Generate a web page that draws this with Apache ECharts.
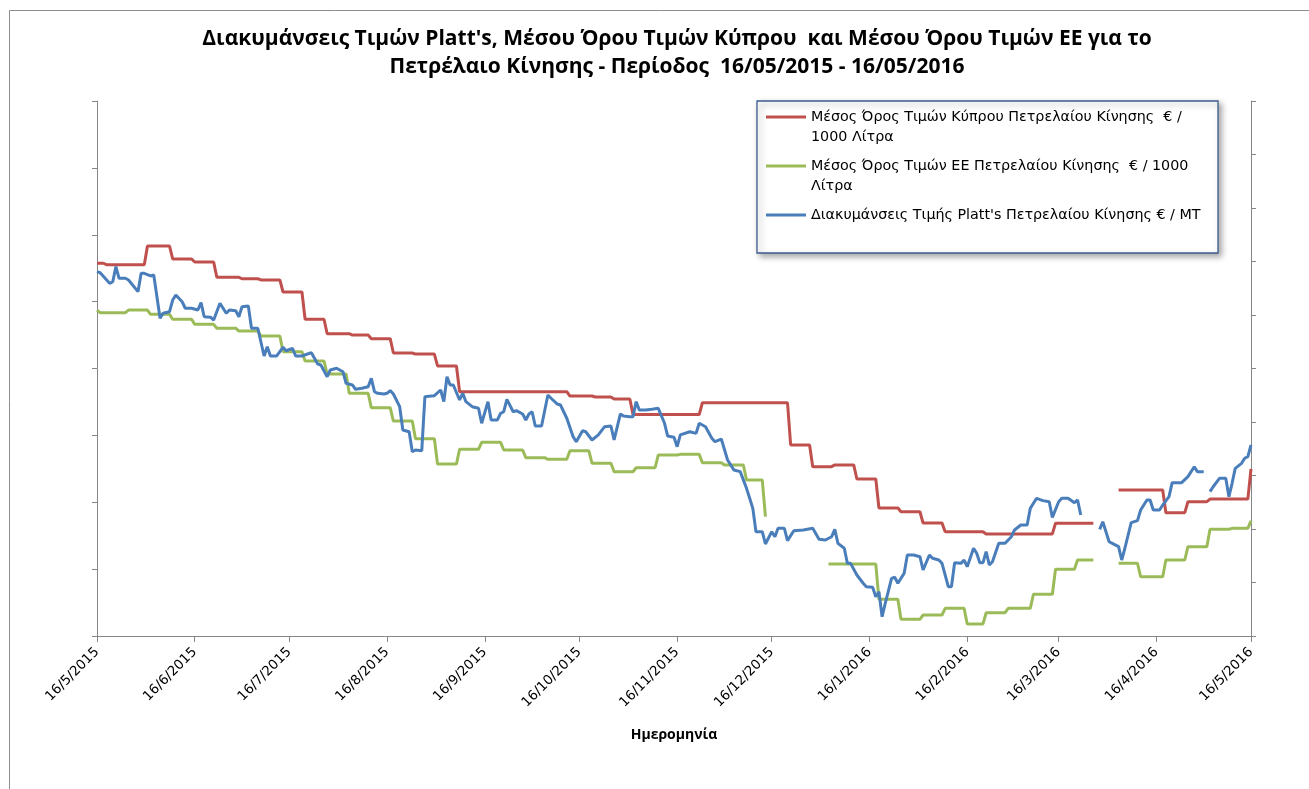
<!DOCTYPE html>
<html>
<head>
<meta charset="utf-8">
<script src="https://cdn.jsdelivr.net/npm/echarts@6/dist/echarts.min.js"></script>
<style>
html,body{margin:0;padding:0;background:#fff;}
#chart{width:1309px;height:789px;}
</style>
</head>
<body>
<div id="chart"></div>
<script>
// Days counted from 16/5/2015 (day 0) to 16/5/2016 (day 366)
const tickDays = [0, 31, 61, 92, 123, 153, 184, 214, 245, 276, 305, 336, 366];
const tickLabels = ['16/5/2015','16/6/2015','16/7/2015','16/8/2015','16/9/2015','16/10/2015','16/11/2015','16/12/2015','16/1/2016','16/2/2016','16/3/2016','16/4/2016','16/5/2016'];

const seriesNames = [
  'Μέσος Όρος Τιμών Κύπρου Πετρελαίου Κίνησης € / 1000 Λίτρα',
  'Μέσος Όρος Τιμών ΕΕ Πετρελαίου Κίνησης  € / 1000 Λίτρα',
  "Διακυμάνσεις Τιμής Platt's Πετρελαίου Κίνησης € / ΜΤ"
];
const legendLabels = [
  'Μέσος Όρος Τιμών Κύπρου Πετρελαίου Κίνησης  € /\n1000 Λίτρα',
  'Μέσος Όρος Τιμών ΕΕ Πετρελαίου Κίνησης  € / 1000\nΛίτρα',
  "Διακυμάνσεις Τιμής Platt's Πετρελαίου Κίνησης € / ΜΤ\n "
];

// Cyprus average (€ / 1000 L), left axis
const cyprusDays = [0,2,3,15,16,23,24,30,31,37,38,45,46,51,52,58,59,65,66,72,73,80,81,86,87,93,94,100,101,107,108,114,115,149,150,157,158,163,164,169,170,191,192,219,220,226,227,233,234,240,241,247,248,254,255,261,262,268,269,281,282,303,304,316,317,324,338,339,345,346,352,353,365,366];
const cyprusPrices = [1278.7,1278.7,1277.6,1277.6,1291.6,1291.6,1281.9,1281.9,1279.6,1279.6,1268.2,1268.2,1267.1,1267.1,1266.2,1266.2,1257.2,1257.2,1236.8,1236.8,1226.0,1226.0,1225.0,1225.0,1222.3,1222.3,1211.6,1211.6,1210.8,1210.8,1201.9,1201.9,1182.7,1182.7,1179.4,1179.4,1178.7,1178.7,1177.2,1177.2,1165.6,1165.6,1174.4,1174.4,1142.8,1142.8,1126.6,1126.6,1127.9,1127.9,1117.4,1117.4,1095.7,1095.7,1092.9,1092.9,1084.5,1084.5,1078.0,1078.0,1076.3,1076.3,1084.3,1084.3,null,1109.2,1109.2,1092.2,1092.2,1100.4,1100.4,1102.4,1102.4,1124.9];

// EU average (€ / 1000 L), left axis
const euDays = [0,1,9,10,16,17,23,24,30,31,37,38,44,45,51,52,58,59,65,66,72,73,79,80,86,87,93,94,100,101,107,108,114,115,121,122,128,129,135,136,142,143,149,150,156,157,163,164,170,171,177,178,184,185,191,192,198,199,205,206,211,212,213,232,247,248,254,255,261,262,268,269,275,276,281,282,288,289,296,297,303,304,310,311,316,317,324,330,331,338,339,345,346,352,353,359,360,365,366];
const euPrices = [1243.7,1241.7,1241.7,1243.7,1243.7,1240.5,1240.5,1236.8,1236.8,1233.0,1233.0,1230.1,1230.1,1228.0,1228.0,1224.3,1224.3,1212.6,1212.6,1205.6,1205.6,1195.9,1195.9,1181.5,1181.5,1170.7,1170.7,1160.7,1160.7,1147.5,1147.5,1128.6,1128.6,1139.6,1139.6,1144.8,1144.8,1139.1,1139.1,1133.3,1133.3,1132.1,1132.1,1138.5,1138.5,1129.1,1129.1,1122.8,1122.8,1125.8,1125.8,1135.3,1135.3,1135.8,1135.8,1129.6,1129.6,1127.9,1127.9,1116.6,1116.6,1089.2,null,1053.8,1053.8,1027.4,1027.4,1012.5,1012.5,1015.7,1015.7,1020.7,1020.7,1009.0,1009.0,1017.4,1017.4,1020.7,1020.7,1031.2,1031.2,1049.9,1049.9,1056.8,1056.8,null,1054.4,1054.4,1044.3,1044.3,1056.8,1056.8,1066.8,1066.8,1079.8,1079.8,1080.5,1080.5,1086.2];

// Platt's (€ / MT), right axis
const plattsDays = [0,1,4,5,6,7,9,10,13,14,15,17,18,20,21,23,24,25,27,28,30,32,33,34,36,37,39,41,42,44,45,46,48,49,51,53,54,55,57,59,60,62,63,65,68,70,71,73,74,76,78,79,81,82,84,86,87,88,89,91,92,93,94,96,97,99,100,101,103,104,106,107,109,110,111,112,113,115,116,117,119,121,122,124,125,127,128,129,130,132,133,135,136,137,138,139,141,143,144,146,147,149,151,152,154,155,157,159,161,163,164,166,167,169,170,171,172,174,176,178,180,181,183,184,185,188,190,191,193,195,196,198,200,202,204,206,207,208,209,211,212,214,215,216,218,219,221,224,227,229,231,233,234,235,237,238,239,241,243,244,246,247,248,249,250,252,253,254,256,257,259,261,262,264,265,267,268,270,271,272,274,275,276,278,279,280,281,282,283,284,286,288,290,291,293,295,296,298,300,302,303,305,306,308,310,311,312,313,318,319,321,322,324,325,326,328,330,331,333,334,335,337,338,340,341,344,346,348,349,351,352,353,354,356,358,359,360,361,363,364,365,366];
const plattsPrices = [540.5,539.5,529.6,531.1,545.2,534.3,534.3,532.7,521.8,539.0,539.0,536.5,537.4,496.9,501.6,503.1,514.0,518.7,512.4,506.3,506.3,504.7,511.5,498.4,497.9,495.3,510.9,501.6,504.7,504.0,498.4,507.8,508.4,487.6,487.6,461.7,470.4,461.7,461.7,469.8,466.6,468.9,461.7,461.7,464.8,454.2,453.3,442.3,448.6,450.2,447.0,436.2,434.6,430.6,431.5,433.0,440.8,428.3,426.8,426.2,426.8,429.3,426.2,414.3,392.5,390.9,372.2,373.8,373.2,423.7,424.3,424.6,429.9,419.0,442.3,434.6,434.6,420.6,426.8,419.0,414.3,412.8,398.8,419.0,401.9,401.9,408.1,409.6,421.2,409.6,410.6,407.5,401.9,407.5,409.6,396.3,396.3,425.2,422.2,416.8,415.9,403.5,386.3,381.6,391.9,390.9,383.2,387.9,395.6,396.3,383.2,407.5,405.6,405.0,405.0,419.0,411.2,411.2,411.9,412.8,398.8,386.9,385.7,376.9,387.9,390.9,389.4,398.8,395.6,384.8,381.6,384.1,364.5,355.1,353.6,338.0,328.7,319.3,297.5,297.5,286.0,297.5,292.8,300.7,300.7,289.1,298.4,299.1,300.7,290.4,289.7,292.8,299.7,286.6,282.0,267.9,267.9,257.0,249.3,246.1,245.5,236.7,241.4,218.0,230.6,253.9,254.9,249.3,258.6,275.7,275.7,274.1,261.7,275.7,272.6,271.0,267.9,246.1,246.1,268.5,267.9,271.0,264.8,282.0,277.3,268.5,268.5,278.8,266.4,269.4,286.6,286.6,292.8,299.1,303.7,303.7,319.3,328.7,326.5,325.5,310.9,325.5,328.7,328.7,324.6,327.1,313.1,null,299.7,306.8,288.1,286.6,283.5,271.0,282.0,305.9,307.8,317.8,327.1,327.1,317.8,317.8,322.4,330.2,343.3,343.3,348.9,358.2,353.6,353.6,null,334.9,339.5,347.4,347.4,330.2,342.7,356.7,361.4,366.1,367.6,378.5];

function pairs(days, vals) {
  return days.map((d, i) => [d, vals[i] === null ? '-' : vals[i]]);
}

const axisGray = '#868686';
const chart = echarts.init(document.getElementById('chart'), null, {renderer: 'canvas'});
const legendIcon = 'path://M0,8.5H40V11.5H0Z M0,0H0.01V0.01H0Z M0,39.99H0.01V40H0Z';

chart.setOption({
  backgroundColor: '#fff',
  animation: false,
  title: {
    text: "Διακυμάνσεις Τιμών Platt's, Μέσου Όρου Τιμών Κύπρου  και Μέσου Όρου Τιμών ΕΕ για το\nΠετρέλαιο Κίνησης - Περίοδος  16/05/2015 - 16/05/2016",
    left: 672,
    top: 20,
    textAlign: 'center',
    textStyle: {
      fontFamily: 'Open Sans',
      fontWeight: 'bold',
      fontSize: 21,
      lineHeight: 28,
      color: '#000'
    }
  },
  graphic: [{
    type: 'rect',
    shape: {x: 9.5, y: 10.5, width: 1320, height: 800},
    style: {fill: null, stroke: '#8c8c8c', lineWidth: 1},
    silent: true,
    z: -1
  }],
  legend: {
    orient: 'vertical',
    left: 757,
    top: 101,
    padding: [6, 15, 8, 9],
    itemGap: 9,
    itemWidth: 40,
    itemHeight: 40,
    itemTextGap: 2,
    icon: legendIcon,
    symbolKeepAspect: false,
    backgroundColor: '#fff',
    borderColor: '#3b5b8c',
    borderWidth: 1.3,
    shadowBlur: 6,
    shadowOffsetX: 3,
    shadowOffsetY: 3,
    shadowColor: 'rgba(0,0,0,0.35)',
    data: seriesNames,
    formatter: name => legendLabels[seriesNames.indexOf(name)],
    textStyle: {
      fontFamily: 'DejaVu Sans',
      fontSize: 14.3,
      lineHeight: 20,
      color: '#000',
      width: 392
    }
  },
  grid: {left: 97, right: 58, top: 101, bottom: 153, containLabel: false},
  xAxis: {
    type: 'value',
    min: 0,
    max: 366,
    name: 'Ημερομηνία',
    nameLocation: 'middle',
    nameGap: 92,
    nameTextStyle: {fontFamily: 'Open Sans', fontWeight: 'bold', fontSize: 14, color: '#000'},
    axisLine: {lineStyle: {color: axisGray, width: 1}},
    axisTick: {show: true, length: 6, customValues: tickDays, lineStyle: {color: axisGray}},
    axisLabel: {
      customValues: tickDays,
      rotate: 45,
      margin: 14,
      fontFamily: 'DejaVu Sans',
      fontSize: 13.5,
      color: '#000',
      formatter: v => tickLabels[tickDays.indexOf(v)] || ''
    },
    splitLine: {show: false}
  },
  yAxis: [{
    type: 'value',
    min: 1000,
    max: 1400,
    interval: 50,
    position: 'left',
    axisLine: {show: true, lineStyle: {color: axisGray, width: 1}},
    axisTick: {show: true, length: 5, lineStyle: {color: axisGray}},
    axisLabel: {show: false},
    splitLine: {show: false}
  }, {
    type: 'value',
    min: 200,
    max: 700,
    interval: 50,
    position: 'right',
    axisLine: {show: true, lineStyle: {color: axisGray, width: 1}},
    axisTick: {show: true, length: 5, lineStyle: {color: axisGray}},
    axisLabel: {show: false},
    splitLine: {show: false}
  }],
  series: [{
    name: seriesNames[0],
    type: 'line',
    yAxisIndex: 0,
    showSymbol: false,
    symbol: 'none',
    color: '#c0504d',
    lineStyle: {width: 3, color: '#c0504d'},
    data: pairs(cyprusDays, cyprusPrices),
    z: 3
  }, {
    name: seriesNames[1],
    type: 'line',
    yAxisIndex: 0,
    showSymbol: false,
    symbol: 'none',
    color: '#9bbb59',
    lineStyle: {width: 3, color: '#9bbb59'},
    data: pairs(euDays, euPrices),
    z: 2
  }, {
    name: seriesNames[2],
    type: 'line',
    yAxisIndex: 1,
    showSymbol: false,
    symbol: 'none',
    color: '#4a7ebb',
    lineStyle: {width: 3, color: '#4a7ebb'},
    data: pairs(plattsDays, plattsPrices),
    z: 4
  }]
});
</script>
</body>
</html>
